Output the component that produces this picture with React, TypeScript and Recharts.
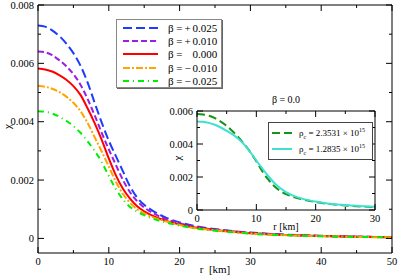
import { ComposedChart, Line, XAxis, YAxis, Legend, CartesianGrid } from "recharts";

const FONT = "Liberation Serif, Times New Roman, serif";

// r [km]
const radius = [0, 1, 2, 3, 4, 5, 6, 7, 8, 9, 10, 11, 12, 13, 14, 15, 16, 18, 20, 22, 25, 28, 30, 35, 40, 45, 50];

// chi for each beta
const chiBetaP025 = [0.0073, 0.00726, 0.00713, 0.00694, 0.00668, 0.00635, 0.00592, 0.00535, 0.00465, 0.00397, 0.00335, 0.00282, 0.0023, 0.00178, 0.0014, 0.00115, 0.00098, 0.00072, 0.00055, 0.00043, 0.00032, 0.00024, 0.0002, 0.00013, 0.00009, 0.00006, 0.00004];
const chiBetaP010 = [0.00641, 0.00638, 0.00628, 0.00611, 0.0059, 0.00563, 0.00527, 0.00478, 0.00422, 0.00362, 0.00305, 0.00252, 0.002, 0.00158, 0.00128, 0.00106, 0.0009, 0.00067, 0.00052, 0.0004, 0.0003, 0.00023, 0.00019, 0.00012, 0.00008, 0.00006, 0.00004];
const chiBeta000 = [0.00582, 0.00579, 0.00572, 0.0056, 0.00544, 0.00522, 0.00492, 0.00446, 0.00395, 0.00338, 0.00274, 0.00216, 0.0017, 0.00136, 0.0011, 0.00093, 0.0008, 0.00061, 0.00048, 0.00038, 0.00029, 0.00022, 0.00018, 0.00012, 0.00008, 0.00006, 0.00004];
const chiBetaM010 = [0.00523, 0.0052, 0.00513, 0.00502, 0.00486, 0.00465, 0.00436, 0.00396, 0.00347, 0.00298, 0.00246, 0.00194, 0.00152, 0.00122, 0.001, 0.00086, 0.00075, 0.00059, 0.00046, 0.00036, 0.00028, 0.00021, 0.00017, 0.00011, 0.00008, 0.00005, 0.00004];
const chiBetaM025 = [0.00436, 0.00434, 0.00428, 0.00417, 0.00403, 0.00385, 0.00362, 0.00333, 0.003, 0.00262, 0.00214, 0.00169, 0.00134, 0.00108, 0.00092, 0.0008, 0.0007, 0.00055, 0.00044, 0.00035, 0.00026, 0.0002, 0.00016, 0.00011, 0.00007, 0.00005, 0.00004];

const betaSigns = ["+", "+", "", "\u2212", "\u2212"];
const betaValues = ["0.025", "0.010", "0.000", "0.010", "0.025"];

// inset: beta = 0.0, two central densities
const insetRadius = [0, 1, 2, 3, 4, 5, 6, 7, 8, 9, 10, 11, 12, 13, 14, 15, 16, 18, 20, 22, 25, 28, 30];
const chiRhoHigh = [0.00582, 0.00579, 0.00571, 0.00557, 0.00536, 0.0051, 0.00477, 0.0044, 0.00397, 0.0035, 0.00295, 0.00235, 0.00185, 0.00145, 0.00116, 0.00096, 0.00082, 0.00062, 0.00048, 0.00038, 0.00028, 0.00021, 0.00017];
const chiRhoLow = [0.00537, 0.00535, 0.00528, 0.00517, 0.005, 0.0048, 0.00458, 0.0043, 0.00395, 0.0035, 0.003, 0.00252, 0.00206, 0.00165, 0.00133, 0.00108, 0.0009, 0.00066, 0.00051, 0.0004, 0.0003, 0.00022, 0.00019];
const rhoMantissa = ["2.3531", "1.2835"];

const mainTicksX = [0, 5, 10, 15, 20, 25, 30, 35, 40, 45, 50];
const mainTicksY = [0, 0.001, 0.002, 0.003, 0.004, 0.005, 0.006, 0.007, 0.008];
const insetTicksX = [0, 5, 10, 15, 20, 25, 30];
const insetTicksY = [0, 0.001, 0.002, 0.003, 0.004, 0.005, 0.006];

const mainData = radius.map((r, i) => ({
  r,
  p025: chiBetaP025[i],
  p010: chiBetaP010[i],
  z000: chiBeta000[i],
  m010: chiBetaM010[i],
  m025: chiBetaM025[i],
}));

const insetData = insetRadius.map((r, i) => ({ r, high: chiRhoHigh[i], low: chiRhoLow[i] }));

const mainSeries = [
  { key: "p025", color: "#1c3cff", dash: "9 4" },
  { key: "p010", color: "#9a1fe0", dash: "6 3" },
  { key: "z000", color: "#ff0000", dash: undefined },
  { key: "m010", color: "#ffa500", dash: "7 2 2 2" },
  { key: "m025", color: "#00ee00", dash: "6 4 1 4" },
];

const insetSeries = [
  { key: "high", color: "#159415", dash: "8 4" },
  { key: "low", color: "#3fe0d0", dash: undefined },
];

const isMajorX = (v: number) => v % 10 === 0;
const isMajorY = (v: number) => Math.round(v * 1000) % 2 === 0;
const fmtY = (v: number) => (v === 0 ? "0" : v.toFixed(3));

function makeTick(side: "bottom" | "top" | "left" | "right", isMajor: (v: number) => boolean, fmt?: (v: number) => string) {
  return (props: any) => {
    const { x, y, payload } = props;
    const v = payload.value as number;
    const major = isMajor(v);
    const len = major ? 6 : 3;
    let line;
    if (side === "bottom") line = <line x1={x} y1={y} x2={x} y2={y - len} stroke="#000" />;
    else if (side === "top") line = <line x1={x} y1={y} x2={x} y2={y + len} stroke="#000" />;
    else if (side === "left") line = <line x1={x} y1={y} x2={x + len} y2={y} stroke="#000" />;
    else line = <line x1={x} y1={y} x2={x - len} y2={y} stroke="#000" />;
    let label = null;
    if (major && fmt) {
      if (side === "bottom")
        label = (
          <text x={x} y={y + 12} textAnchor="middle" fontSize={10.5} fontFamily={FONT} fill="#000">
            {fmt(v)}
          </text>
        );
      else if (side === "left")
        label = (
          <text x={x - 4} y={y} dy="0.35em" textAnchor="end" fontSize={10.5} fontFamily={FONT} fill="#000">
            {fmt(v)}
          </text>
        );
    }
    return (
      <g>
        {line}
        {label}
      </g>
    );
  };
}

function MainLegend() {
  return (
    <div
      style={{
        width: 106,
        height: 69,
        border: "1px solid #888",
        boxShadow: "1px 1px 0 #666",
        background: "#fff",
        fontFamily: FONT,
        fontSize: 11,
        boxSizing: "border-box",
        paddingTop: 1,
        whiteSpace: "nowrap",
      }}
    >
      {mainSeries.map((s, i) => (
        <div key={s.key} style={{ display: "flex", alignItems: "center", height: 13.3 }}>
          <svg width={45} height={8} style={{ marginLeft: 6, flex: "none" }}>
            <line x1={0} y1={4} x2={35} y2={4} stroke={s.color} strokeWidth={2} strokeDasharray={s.dash} />
          </svg>
          <span>β =</span>
          <span style={{ display: "inline-block", width: 10, textAlign: "center" }}>{betaSigns[i]}</span>
          <span>{betaValues[i]}</span>
        </div>
      ))}
    </div>
  );
}

function InsetLegend() {
  return (
    <div
      style={{
        width: 105,
        height: 38,
        border: "1px solid #444",
        background: "#fff",
        fontFamily: FONT,
        fontSize: 9,
        boxSizing: "border-box",
        paddingTop: 2,
        whiteSpace: "nowrap",
      }}
    >
      {insetSeries.map((s, i) => (
        <div key={s.key} style={{ display: "flex", alignItems: "center", height: 16 }}>
          <svg width={27} height={8} style={{ marginLeft: 3, flex: "none" }}>
            <line x1={0} y1={4} x2={20} y2={4} stroke={s.color} strokeWidth={2} strokeDasharray={s.dash} />
          </svg>
          <span>
            ρ<sub style={{ fontSize: 6 }}>c</sub> = {rhoMantissa[i]} × 10<sup style={{ fontSize: 6 }}>15</sup>
          </span>
        </div>
      ))}
    </div>
  );
}

function Inset() {
  return (
    <ComposedChart width={240} height={146} data={insetData} margin={{ top: 22, right: 24, bottom: 6, left: 0 }}>
      <CartesianGrid fill="#fff" horizontal={false} vertical={false} />
      <XAxis
        dataKey="r"
        type="number"
        domain={[0, 30]}
        ticks={insetTicksX}
        interval={0}
        allowDataOverflow
        height={18}
        tickSize={0}
        tickMargin={0}
        tickLine={false}
        axisLine={{ stroke: "#000" }}
        tick={makeTick("bottom", isMajorX, (v) => String(v))}
        label={{ value: "r [km]", position: "insideBottom", offset: -2, fontSize: 10, fontFamily: FONT, fill: "#000" }}
      />
      <XAxis
        xAxisId="top"
        orientation="top"
        dataKey="r"
        type="number"
        domain={[0, 30]}
        ticks={insetTicksX}
        interval={0}
        allowDataOverflow
        height={1}
        tickSize={0}
        tickMargin={0}
        tickLine={false}
        axisLine={{ stroke: "#000" }}
        tick={makeTick("top", isMajorX)}
        label={{ value: "β = 0.0", position: "top", offset: 7, fontSize: 10, fontFamily: FONT, fill: "#000" }}
      />
      <YAxis
        type="number"
        domain={[0, 0.006]}
        ticks={insetTicksY}
        interval={0}
        allowDataOverflow
        width={37}
        tickSize={0}
        tickMargin={0}
        tickLine={false}
        axisLine={{ stroke: "#000" }}
        tick={makeTick("left", isMajorY, fmtY)}
        label={{ value: "χ", angle: -90, position: "insideLeft", offset: 17, fontSize: 11, fontFamily: FONT, fill: "#000" }}
      />
      <YAxis
        yAxisId="right"
        orientation="right"
        type="number"
        domain={[0, 0.006]}
        ticks={insetTicksY}
        interval={0}
        allowDataOverflow
        width={1}
        tickSize={0}
        tickMargin={0}
        tickLine={false}
        axisLine={{ stroke: "#000" }}
        tick={makeTick("right", isMajorY)}
      />
      {insetSeries.map((s) => (
        <Line
          key={s.key}
          dataKey={s.key}
          type="monotone"
          stroke={s.color}
          strokeWidth={2}
          strokeDasharray={s.dash}
          dot={false}
          isAnimationActive={false}
        />
      ))}
      <Legend
        layout="vertical"
        align="center"
        verticalAlign="middle"
        content={<InsetLegend />}
        wrapperStyle={{ left: 108, top: 34 }}
      />
    </ComposedChart>
  );
}

export default function App() {
  return (
    <div style={{ position: "absolute", left: 0, top: 0, width: 399, height: 276, background: "#fff" }}>
      <ComposedChart width={399} height={276} data={mainData} margin={{ top: 4, right: 6, bottom: 0, left: 0 }}>
        <XAxis
          dataKey="r"
          type="number"
          domain={[0, 50]}
          ticks={mainTicksX}
          interval={0}
          allowDataOverflow
          height={23}
          tickSize={0}
          tickMargin={0}
          tickLine={false}
          axisLine={{ stroke: "#000" }}
          tick={makeTick("bottom", isMajorX, (v) => String(v))}
          label={{ value: "r\u00a0\u00a0[km]", position: "insideBottom", offset: 3, fontSize: 11, fontFamily: FONT, fill: "#000" }}
        />
        <XAxis
          xAxisId="top"
          orientation="top"
          dataKey="r"
          type="number"
          domain={[0, 50]}
          ticks={mainTicksX}
          interval={0}
          allowDataOverflow
          height={1}
          tickSize={0}
          tickMargin={0}
          tickLine={false}
          axisLine={{ stroke: "#000" }}
          tick={makeTick("top", isMajorX)}
        />
        <YAxis
          type="number"
          domain={[-0.0005, 0.008]}
          ticks={mainTicksY}
          interval={0}
          allowDataOverflow
          width={38}
          tickSize={0}
          tickMargin={0}
          tickLine={false}
          axisLine={{ stroke: "#000" }}
          tick={makeTick("left", isMajorY, fmtY)}
          label={{ value: "χ", angle: -90, position: "insideLeft", offset: 7, fontSize: 11, fontFamily: FONT, fill: "#000" }}
        />
        <YAxis
          yAxisId="right"
          orientation="right"
          type="number"
          domain={[-0.0005, 0.008]}
          ticks={mainTicksY}
          interval={0}
          allowDataOverflow
          width={1}
          tickSize={0}
          tickMargin={0}
          tickLine={false}
          axisLine={{ stroke: "#000" }}
          tick={makeTick("right", isMajorY)}
        />
        {mainSeries.map((s) => (
          <Line
            key={s.key}
            dataKey={s.key}
            type="monotone"
            stroke={s.color}
            strokeWidth={2}
            strokeDasharray={s.dash}
            dot={false}
            isAnimationActive={false}
          />
        ))}
        <Legend
          layout="vertical"
          align="center"
          verticalAlign="middle"
          content={<MainLegend />}
          wrapperStyle={{ left: 116, top: 19 }}
        />
      </ComposedChart>
      <div style={{ position: "absolute", left: 160, top: 88 }}>
        <Inset />
      </div>
    </div>
  );
}
